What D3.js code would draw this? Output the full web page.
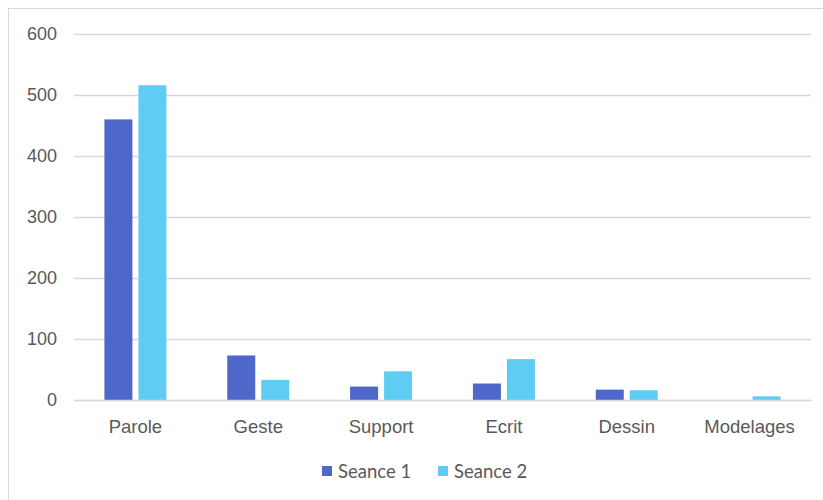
<!DOCTYPE html>
<html><head><meta charset="utf-8">
<script src="https://cdn.jsdelivr.net/npm/d3@7"></script>
<style>body{margin:0;background:#fff}svg{display:block;font-family:Lato,"Open Sans",sans-serif}</style>
</head><body><svg id="c" width="823" height="500"></svg>
<script>
const categories = ["Parole","Geste","Support","Ecrit","Dessin","Modelages"];
const seriesNames = ["Seance 1","Seance 2"];
const seance1 = [460,73,22,27,17,0];
const seance2 = [516,33,47,67,16,6];
const yTicks = [0,100,200,300,400,500,600];
const colors = ["#4f67c9","#5fcdf3"];

const svg = d3.select("#c");
svg.append("rect").attr("x",8.5).attr("y",8.5).attr("width",830).attr("height",510)
  .attr("fill","none").attr("stroke","#d9d9d9");

const x0 = d3.scaleBand().domain(categories).range([74,811]);
const bw = x0.bandwidth();
const x1 = d3.scaleBand().domain(seriesNames).range([bw/2-31, bw/2+31]).paddingInner(6/34);
const y = d3.scaleLinear().domain([0,600]).range([400,34]);

const gy = svg.append("g").attr("transform","translate(74,0)")
  .call(d3.axisLeft(y).tickValues(yTicks).tickSize(-737).tickPadding(17));
gy.select(".domain").remove();
gy.selectAll(".tick line").attr("stroke","#d9d9d9").attr("stroke-width",1.5);
gy.selectAll(".tick text").attr("fill","#595959").style("font-size","18px");

const data = categories.map((c,i)=>({c, vals:[seance1[i],seance2[i]]}));
const g = svg.append("g");
data.forEach(d=>{
  d.vals.forEach((v,j)=>{
    if(v<=0) return;
    g.append("rect").attr("x",x0(d.c)+x1(seriesNames[j])).attr("width",x1.bandwidth())
      .attr("y",y(v)).attr("height",y(0)-y(v)).attr("fill",colors[j]);
  });
});

const gx = svg.append("g").attr("transform","translate(0,400)")
  .call(d3.axisBottom(x0).tickSize(0).tickPadding(20));
gx.select(".domain").attr("stroke","#d9d9d9").attr("stroke-width",1.5);
gx.selectAll(".tick text").attr("fill","#595959").style("font-size","18.5px");

const leg = svg.append("g");
const lx = [322,438];
seriesNames.forEach((s,i)=>{
  leg.append("rect").attr("x",lx[i]).attr("y",466).attr("width",10).attr("height",10).attr("fill",colors[i]);
  leg.append("text").attr("x",lx[i]+16).attr("y",477.5).text(s).attr("fill","#595959").style("font-size","18.5px");
});
</script></body></html>
